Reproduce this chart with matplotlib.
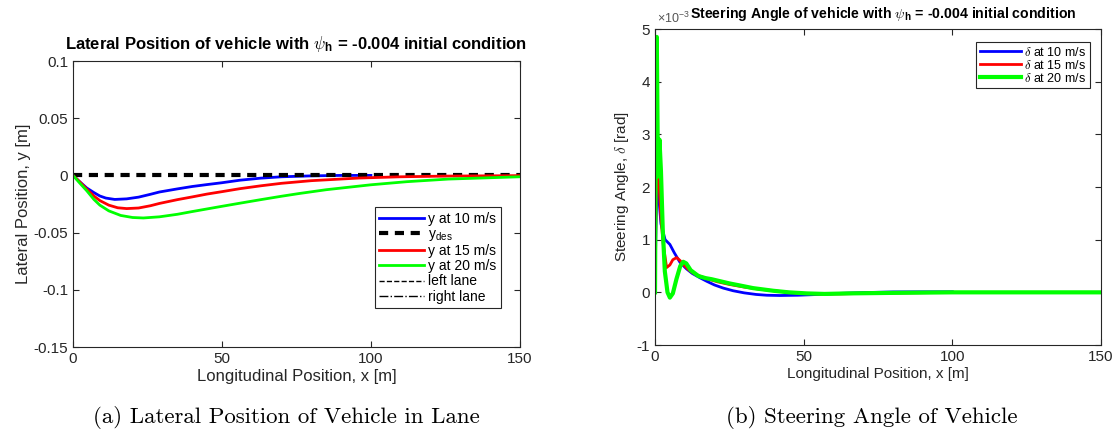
import matplotlib.pyplot as plt

plt.rcParams['font.family'] = ['Liberation Sans', 'DejaVu Sans']
plt.rcParams['axes.unicode_minus'] = False
plt.rcParams['mathtext.fontset'] = 'cm'

# lateral position y [m] vs longitudinal position x [m]
x_10 = [0, 2, 4.6, 7, 9, 11, 14, 18, 22, 26, 29, 35, 40, 45, 50, 56, 63, 70, 80, 90, 100]
y_10 = [0, -0.005, -0.011, -0.015, -0.018, -0.0198, -0.021, -0.0205, -0.019, -0.0165, -0.0145,
        -0.0118, -0.0097, -0.008, -0.0064, -0.0042, -0.0024, -0.0012, -0.0004, 0, 0]
x_15 = [0, 2, 4.6, 7, 9, 12, 15, 18, 22, 26, 29, 35, 40, 45, 50, 56, 63, 70, 80, 96, 110, 125, 150]
y_15 = [0, -0.005, -0.012, -0.018, -0.022, -0.026, -0.0283, -0.029, -0.0285, -0.0265, -0.0245,
        -0.0212, -0.0188, -0.0163, -0.0142, -0.0116, -0.0091, -0.0069, -0.0046, -0.0023, -0.0012, -0.0006, -0.0002]
x_20 = [0, 2, 4.6, 7, 9, 12, 16, 20, 23.6, 29, 35, 40, 45, 50, 56, 63, 70, 76, 85, 100, 112, 126, 150]
y_20 = [0, -0.006, -0.0134, -0.021, -0.026, -0.031, -0.035, -0.0368, -0.0372, -0.0362, -0.034,
        -0.0316, -0.0293, -0.027, -0.0243, -0.0212, -0.0182, -0.0158, -0.0125, -0.0082, -0.0055, -0.0032, -0.0012]
x_des = [0, 150]
y_des = [0, 0]
left_lane = [1.85, 1.85]
right_lane = [-1.85, -1.85]

# steering angle delta [1e-3 rad]
xd_10 = [0, 0.3, 0.7, 1.2, 2, 3.4, 5, 6.5, 8.4, 10.5, 12.5, 15, 17.4, 20, 23, 26.3, 30, 34, 37.6,
         42, 48, 55, 62, 70, 80, 90, 100]
d_10 = [0, 1.2, 2.15, 1.85, 1.3, 1.0, 0.91, 0.75, 0.57, 0.45, 0.36, 0.28, 0.21, 0.14, 0.08, 0.03,
        -0.01, -0.04, -0.055, -0.06, -0.055, -0.04, -0.02, -0.005, 0.008, 0.01, 0.01]
xd_15 = [0, 0.3, 0.7, 1.2, 2, 2.8, 3.9, 5, 6, 7.3, 8.5, 10, 11.5, 13, 15, 18, 21, 25, 30, 35,
         40, 45, 50, 55, 62, 70, 85, 100, 120, 150]
d_15 = [0, 1.5, 2.57, 2.2, 1.4, 0.9, 0.47, 0.52, 0.62, 0.66, 0.6, 0.5, 0.42, 0.36, 0.31, 0.25, 0.2,
        0.15, 0.1, 0.06, 0.03, 0.0, -0.02, -0.03, -0.03, -0.02, -0.01, 0, 0, 0]
xd_20 = [0, 0.3, 0.6, 1.0, 1.5, 2.0, 2.6, 3.3, 4.2, 5, 6, 7.2, 8.5, 9.5, 10.5, 12, 14.6, 17, 19,
         22, 25, 28.6, 33, 39.8, 45, 51, 57, 65, 80, 100, 120, 150]
d_20 = [0, 3.5, 4.85, 2.2, 2.9, 2.3, 1.2, 0.4, 0.0, -0.1, -0.02, 0.25, 0.5, 0.58, 0.55, 0.42, 0.31,
        0.27, 0.25, 0.21, 0.17, 0.13, 0.08, 0.03, 0.0, -0.02, -0.03, -0.02, -0.01, 0, 0, 0]

fig = plt.figure(figsize=(11.17, 4.33), dpi=100)

tick_kw = dict(direction="in", top=True, right=True, labelsize=11, colors="#262626", length=4)
spine_color = "#262626"

ax1 = fig.add_axes([0.0654, 0.1986, 0.400, 0.6605])
ax1.plot(x_10, y_10, c="blue", lw=2, label="y at 10 m/s")
ax1.plot(x_des, y_des, c="black", lw=3, ls=(0, (2.2, 1.6)), label="y$_\\mathregular{des}$")
ax1.plot(x_15, y_15, c="red", lw=2, label="y at 15 m/s")
ax1.plot(x_20, y_20, c="#00ff00", lw=2, label="y at 20 m/s")
ax1.plot(x_des, left_lane, c="black", lw=1, ls="--", label="left lane")
ax1.plot(x_des, right_lane, c="black", lw=1, ls="-.", label="right lane")
ax1.set_xlim(0, 150)
ax1.set_ylim(-0.15, 0.1)
ax1.set_xticks([0, 50, 100, 150])
ax1.set_yticks([-0.15, -0.1, -0.05, 0, 0.05, 0.1])
ax1.set_yticklabels(["-0.15", "-0.1", "-0.05", "0", "0.05", "0.1"])
ax1.tick_params(axis="both", **tick_kw)
ax1.set_xlabel("Longitudinal Position, x [m]", fontsize=12, color="#262626", labelpad=2)
ax1.set_ylabel("Lateral Position, y [m]", fontsize=12, color="#262626", labelpad=2)
ax1.set_title("Lateral Position of vehicle with $\\psi_\\mathregular{h}$ = -0.004 initial condition",
              fontsize=12, fontweight="bold", pad=9)
leg1 = ax1.legend(loc="lower right", bbox_to_anchor=(0.958, 0.135), fontsize=10, fancybox=False,
                  edgecolor="#262626", handlelength=3.2, handletextpad=0.3, labelspacing=0.08,
                  borderpad=0.35, borderaxespad=0, framealpha=1)
leg1.get_frame().set_linewidth(0.8)

ax2 = fig.add_axes([0.5864, 0.2032, 0.3993, 0.7298])
ax2.plot(xd_10, d_10, c="blue", lw=2, label="$\\delta$ at 10 m/s")
ax2.plot(xd_15, d_15, c="red", lw=2, label="$\\delta$ at 15 m/s")
ax2.plot(xd_20, d_20, c="#00ff00", lw=3, label="$\\delta$ at 20 m/s")
ax2.set_xlim(0, 150)
ax2.set_ylim(-1, 5)
ax2.set_xticks([0, 50, 100, 150])
ax2.set_yticks(range(-1, 6))
ax2.tick_params(axis="both", **tick_kw)
ax2.set_xlabel("Longitudinal Position, x [m]", fontsize=11, color="#262626", labelpad=2)
ax2.set_ylabel("Steering Angle, $\\delta$ [rad]", fontsize=11, color="#262626", labelpad=4)
fig.text(0.7905, 0.968, "Steering Angle of vehicle with $\\psi_\\mathregular{h}$ = -0.004 initial condition",
         ha="center", va="center", fontsize=10.2, fontweight="bold")
fig.text(0.588, 0.958, "×10$^\\mathregular{-3}$", ha="left", va="center", fontsize=9, color="#555555")
leg2 = ax2.legend(loc="upper right", bbox_to_anchor=(0.975, 0.959), fontsize=9, fancybox=False,
                  edgecolor="#262626", handlelength=3.3, handletextpad=0.25, labelspacing=0.0,
                  borderpad=0.3, borderaxespad=0, framealpha=1)
leg2.get_frame().set_linewidth(0.8)

for ax in (ax1, ax2):
    for s in ax.spines.values():
        s.set_color(spine_color)
        s.set_linewidth(0.8)

fig.text(0.256, 0.022, "(a) Lateral Position of Vehicle in Lane", family="cmr10",
         ha="center", fontsize=16.5)
fig.text(0.780, 0.022, "(b) Steering Angle of Vehicle", family="cmr10",
         ha="center", fontsize=16.5)

fig.savefig("out.png", dpi=100)
